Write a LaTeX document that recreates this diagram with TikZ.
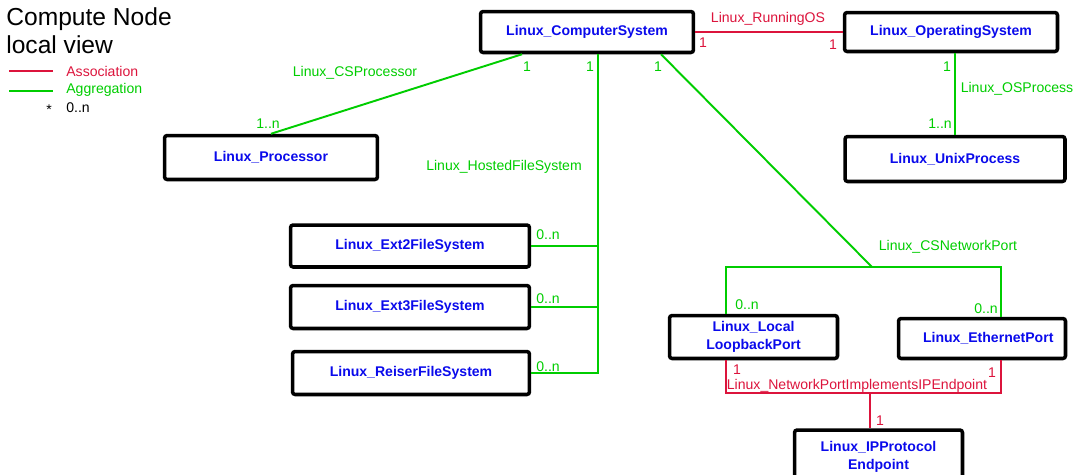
\documentclass[tikz,border=0pt]{standalone}
\usepackage{fontspec}
\setmainfont{Liberation Sans}
\definecolor{assocred}{RGB}{220,20,60}
\definecolor{aggrgreen}{RGB}{0,205,0}
\definecolor{classblue}{RGB}{10,10,235}

\begin{document}
\begin{tikzpicture}[x=0.02cm, y=-0.02cm,
    classbox/.style={rectangle, draw, line width=2pt, rounded corners=1.5pt, align=center, font=\fontsize{8}{10}\selectfont\bfseries, text=classblue, inner sep=0pt},
    assoc/.style={draw=assocred, line width=1.1pt},
    aggr/.style={draw=aggrgreen, line width=1.1pt},
    assoclabel/.style={text=assocred, font=\fontsize{8}{10}\selectfont, inner sep=0pt},
    aggrlabel/.style={text=aggrgreen, font=\fontsize{8}{10}\selectfont, inner sep=0pt}
]
\useasboundingbox (0,0) rectangle (1078,474);

% Legend
\node[anchor=base west, inner sep=0pt, font=\fontsize{14}{16}\selectfont] (title1) at (6,25) {Compute Node};
\node[anchor=base west, inner sep=0pt, font=\fontsize{14}{16}\selectfont] (title2) at (6,53) {local view};
\draw[assoc] (9,71) -- (53,71);
\node[assoclabel, anchor=west] (legassoc) at (66,71) {Association};
\draw[aggr] (9,91) -- (53,91);
\node[aggrlabel, anchor=west] (legaggr) at (66,90) {Aggregation};
\node[inner sep=0pt, font=\fontsize{8}{10}\selectfont] (legstar) at (49,110) {*};
\node[anchor=west, inner sep=0pt, font=\fontsize{8}{10}\selectfont] (legmult) at (66,108) {0..n};

% Classes
\node[classbox, minimum width=4.26cm, minimum height=0.82cm] (cs) at (587,32) {Linux\_ComputerSystem};
\node[classbox, minimum width=4.26cm, minimum height=0.78cm] (os) at (951,32) {Linux\_OperatingSystem};
\node[classbox, minimum width=4.4cm, minimum height=0.9cm] (unix) at (955,159) {Linux\_UnixProcess};
\node[classbox, minimum width=4.26cm, minimum height=0.88cm] (proc) at (271,157.5) {Linux\_Processor};
\node[classbox, minimum width=4.78cm, minimum height=0.84cm] (ext2) at (410,246) {Linux\_Ext2FileSystem};
\node[classbox, minimum width=4.78cm, minimum height=0.86cm] (ext3) at (410,307) {Linux\_Ext3FileSystem};
\node[classbox, minimum width=4.74cm, minimum height=0.86cm] (reiser) at (411,373) {Linux\_ReiserFileSystem};
\node[classbox, minimum width=3.36cm, minimum height=0.86cm] (loop) at (753.5,337) {Linux\_Local\\LoopbackPort};
\node[classbox, minimum width=3.34cm, minimum height=0.8cm] (eth) at (982,338.5) {\hspace{0.25cm}Linux\_EthernetPort};
\node[classbox, minimum width=3.36cm, minimum height=1.08cm] (ipep) at (878.5,457) {Linux\_IPProtocol\\Endpoint};

% Linux_RunningOS
\draw[assoc] (cs.east) -- (os.west);
\node[assoclabel] (runos) at (768,19) {Linux\_RunningOS};
\node[assoclabel] (runos1) at (703,43) {1};
\node[assoclabel] (runos2) at (833,45) {1};

% Linux_OSProcess
\draw[aggr] (unix.north |- os.south) -- (unix.north);
\node[aggrlabel] (osproc) at (1017,89) {Linux\_OSProcess};
\node[aggrlabel] (osproc1) at (947,67) {1};
\node[aggrlabel] (osproc2) at (940,124) {1..n};

% Linux_CSProcessor
\draw[aggr] ([xshift=-1.3cm]cs.south) -- (proc.north);
\node[aggrlabel] (csproc) at (355,73) {Linux\_CSProcessor};
\node[aggrlabel] (csproc1) at (527,67) {1};
\node[aggrlabel] (csproc2) at (268,124) {1..n};

% Linux_HostedFileSystem
\coordinate (hfs) at ([xshift=0.22cm]cs.south);
\draw[aggr] (hfs) -- (hfs |- reiser.east) -- (reiser.east);
\draw[aggr] (ext2.east) -- (ext2.east -| hfs);
\draw[aggr] (ext3.east) -- (ext3.east -| hfs);
\node[aggrlabel] (hosted) at (504,167) {Linux\_HostedFileSystem};
\node[aggrlabel] (hosted1) at (590,67) {1};
\node[aggrlabel] (hosted2) at (548,235) {0..n};
\node[aggrlabel] (hosted3) at (548,299) {0..n};
\node[aggrlabel] (hosted4) at (548,367) {0..n};

% Linux_CSNetworkPort
\coordinate (npj) at (872,267);
\draw[aggr] ([xshift=1.48cm]cs.south) -- (npj);
\draw[aggr] ([xshift=-0.55cm]loop.north) |- (npj) -| ([xshift=0.38cm]eth.north);
\node[aggrlabel] (csnet) at (948,247) {Linux\_CSNetworkPort};
\node[aggrlabel] (csnet1) at (658,67) {1};
\node[aggrlabel] (csnet2) at (747,305) {0..n};
\node[aggrlabel] (csnet3) at (986,309) {0..n};

% Linux_NetworkPortImplementsIPEndpoint
\coordinate (ipj) at (870,393);
\draw[assoc] ([xshift=-0.55cm]loop.south) |- (ipj) -| ([xshift=0.38cm]eth.south);
\draw[assoc] (ipj) -- (ipj |- ipep.north);
\node[assoclabel] (npimpl) at (857,386) {Linux\_NetworkPortImplementsIPEndpoint};
\node[assoclabel] (npimpl1) at (737,370) {1};
\node[assoclabel] (npimpl2) at (992,373) {1};
\node[assoclabel] (npimpl3) at (880,421) {1};
\end{tikzpicture}
\end{document}
